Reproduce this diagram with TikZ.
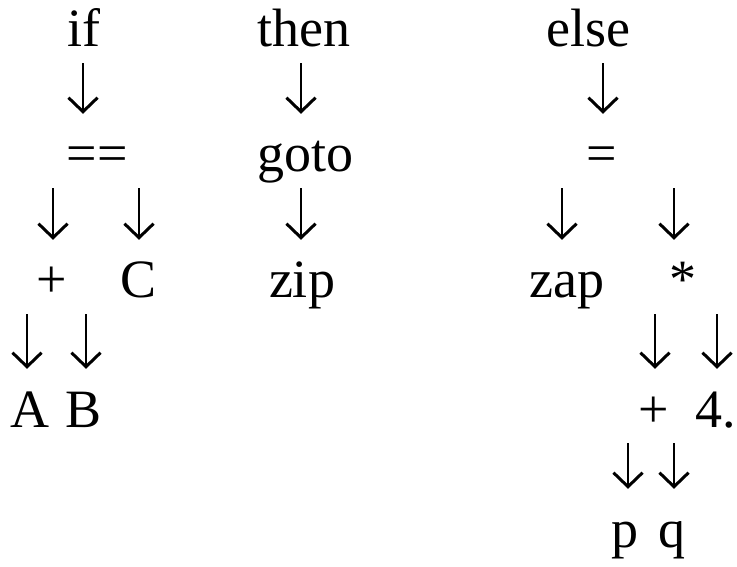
\documentclass[tikz,border=0pt]{standalone}
\usepackage{fontspec}
\setmainfont{Liberation Serif}
\usetikzlibrary{arrows.meta}
\begin{document}
\begin{tikzpicture}[x=1pt,y=-1pt,
  lbl/.style={anchor=base,inner sep=0pt,text height=38pt,text depth=12pt,font=\fontsize{54}{60}\selectfont},
  arr/.style={line width=2.2pt,-{Straight Barb[length=14pt,width=29pt,line width=3pt]},shorten <=4pt,shorten >=20pt}]
\useasboundingbox (0,0) rectangle (737,567);
% row 1
\node[lbl] (if) at (84,47) {if};
\node[lbl] (then) at (304,47) {then};
\node[lbl] (else) at (588,47) {else};
% row 2
\node[lbl] (eqeq) at (97,172) {==};
\node[lbl] (goto) at (305,172) {goto};
\node[lbl] (eq) at (602,172) {=};
% row 3
\node[lbl] (plusA) at (52,298) {+};
\node[lbl] (C) at (139,298) {C};
\node[lbl] (zip) at (302,298) {zip};
\node[lbl] (zap) at (567,298) {zap};
\node[lbl] (star) at (683,298) {*};
% row 4
\node[lbl] (A) at (30,427) {A};
\node[lbl] (B) at (84,427) {B};
\node[lbl] (plusB) at (654,427) {+};
\node[lbl,anchor=base west] (four) at (695,427) {4.};
% row 5
\node[lbl] (p) at (625,547) {p};
\node[lbl] (q) at (672,547) {q};
% connectors
\draw[arr] (if.south -| 83,0) -- (eqeq.north -| 83,0);
\draw[arr] (then.south -| 301,0) -- (goto.north -| 301,0);
\draw[arr] (else.south -| 603,0) -- (eq.north -| 603,0);
\draw[arr] (eqeq.south -| 53,0) -- (plusA.north -| 53,0);
\draw[arr] (eqeq.south -| 139,0) -- (C.north -| 139,0);
\draw[arr] (goto.south -| 301,0) -- (zip.north -| 301,0);
\draw[arr] (eq.south -| 562,0) -- (zap.north -| 562,0);
\draw[arr] (eq.south -| 674,0) -- (star.north -| 674,0);
\draw[arr] (plusA.south -| 27,0) -- (A.north -| 27,0);
\draw[arr] (plusA.south -| 86,0) -- (B.north -| 86,0);
\draw[arr] (star.south -| 655,0) -- (plusB.north -| 655,0);
\draw[arr] (star.south -| 717,0) -- (four.north -| 717,0);
\draw[arr] (plusB.south -| 628,0) -- (p.north -| 628,0);
\draw[arr] (plusB.south -| 674,0) -- (q.north -| 674,0);
\end{tikzpicture}
\end{document}
